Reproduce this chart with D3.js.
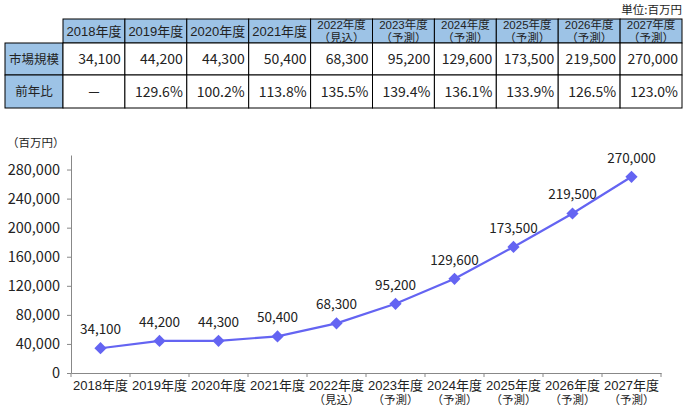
<!DOCTYPE html>
<html>
<head>
<meta charset="utf-8">
<script src="https://cdn.jsdelivr.net/npm/d3@7"></script>
<style>
  body { margin: 0; background: #fff; }
  svg text { font-family: "Noto Sans CJK JP", "Noto Sans", sans-serif; fill: #222; }
  svg text.head, svg text.xlab { font-family: "Liberation Sans", "Noto Sans CJK JP", sans-serif; }
</style>
</head>
<body>
<div id="chart"></div>
<script>
const years = ["2018年度", "2019年度", "2020年度", "2021年度", "2022年度", "2023年度", "2024年度", "2025年度", "2026年度", "2027年度"];
const notes = ["", "", "", "", "（見込）", "（予測）", "（予測）", "（予測）", "（予測）", "（予測）"];
const marketSize = [34100, 44200, 44300, 50400, 68300, 95200, 129600, 173500, 219500, 270000];
const yoy = ["－", "129.6%", "100.2%", "113.8%", "135.5%", "139.4%", "136.1%", "133.9%", "126.5%", "123.0%"];
const rowLabels = ["市場規模", "前年比"];
const yTicks = [0, 40000, 80000, 120000, 160000, 200000, 240000, 280000];

const WIDTH = 687;
const HEIGHT = 416;
const BLUE = "#9DC3E6";
const LINE = "#6464F2";
const fmt = d3.format(",");

const svg = d3.select("#chart").append("svg")
  .attr("width", WIDTH)
  .attr("height", HEIGHT);

// Table
const tableLeft = 5, labelW = 58, tableRight = 682;
const colX = d3.scaleBand().domain(years).range([tableLeft + labelW, tableRight]);
const rowTop = [19, 43, 75, 108];

svg.append("text")
  .attr("x", tableRight).attr("y", 14)
  .attr("text-anchor", "end")
  .attr("font-size", 11.5)
  .text("単位:百万円");

const table = svg.append("g");

// header cells
table.selectAll("rect.head").data(years).join("rect")
  .attr("x", d => colX(d)).attr("y", rowTop[0])
  .attr("width", colX.bandwidth()).attr("height", rowTop[1] - rowTop[0])
  .attr("fill", BLUE).attr("stroke", "#000");

table.selectAll("text.head").data(years).join("text")
  .attr("class", "head")
  .attr("x", d => colX(d) + colX.bandwidth() / 2)
  .attr("y", (d, i) => notes[i] ? rowTop[0] + 10 : rowTop[0] + 16.5)
  .attr("text-anchor", "middle")
  .attr("font-size", (d, i) => notes[i] ? 11.5 : 13)
  .text(d => d);

table.selectAll("text.note").data(notes.filter(n => n)).join("text")
  .attr("class", "head note")
  .attr("x", (d, i) => colX(years[i + 4]) + colX.bandwidth() / 2)
  .attr("y", rowTop[0] + 23)
  .attr("text-anchor", "middle")
  .attr("font-size", 11.5)
  .text(d => d);

// label column
rowLabels.forEach((lab, r) => {
  table.append("rect")
    .attr("x", tableLeft).attr("y", rowTop[r + 1])
    .attr("width", labelW).attr("height", rowTop[r + 2] - rowTop[r + 1])
    .attr("fill", BLUE).attr("stroke", "#000");
  table.append("text")
    .attr("x", tableLeft + labelW / 2)
    .attr("y", (rowTop[r + 1] + rowTop[r + 2]) / 2 + 4.5)
    .attr("text-anchor", "middle")
    .attr("font-size", 12.5)
    .text(lab);
});

[marketSize.map(fmt), yoy].forEach((vals, r) => {
  const y0 = rowTop[r + 1], y1 = rowTop[r + 2];
  table.selectAll("rect.r" + r).data(years).join("rect")
    .attr("x", d => colX(d)).attr("y", y0)
    .attr("width", colX.bandwidth()).attr("height", y1 - y0)
    .attr("fill", "#fff").attr("stroke", "#000");
  table.selectAll("text.r" + r).data(vals).join("text")
    .attr("class", "r" + r)
    .attr("x", (d, i) => d === "－" ? colX(years[i]) + colX.bandwidth() / 2 : colX(years[i]) + colX.bandwidth() - 4)
    .attr("y", (y0 + y1) / 2 + 5)
    .attr("text-anchor", d => d === "－" ? "middle" : "end")
    .attr("font-size", 14)
    .text(d => d);
});

// Chart
const m = { left: 71, right: 661, top: 155, bottom: 373 };
const x = d3.scaleBand().domain(years).range([m.left, m.right]);
const y = d3.scaleLinear().domain([0, 300000]).range([m.bottom, m.top]);

svg.append("text")
  .attr("x", 7).attr("y", 147)
  .attr("font-size", 11.5)
  .text("（百万円）");

const yAxis = svg.append("g")
  .attr("transform", `translate(${m.left},0)`)
  .call(d3.axisLeft(y).tickValues(yTicks).tickFormat(fmt).tickSize(4).tickSizeOuter(0));
yAxis.select(".domain").attr("stroke", "#888");
yAxis.selectAll(".tick line").attr("stroke", "#888");
yAxis.selectAll(".tick text")
  .attr("font-size", 14.5).attr("x", -11);

const xAxis = svg.append("g")
  .attr("transform", `translate(0,${m.bottom})`)
  .call(d3.axisBottom(x).tickSize(0).tickFormat(""));
xAxis.select(".domain").attr("stroke", "#888");

svg.append("g").selectAll("line").data(d3.range(years.length + 1)).join("line")
  .attr("x1", i => m.left + i * x.step()).attr("x2", i => m.left + i * x.step())
  .attr("y1", m.bottom).attr("y2", m.bottom + 4)
  .attr("stroke", "#888");

const xl = svg.append("g");
xl.selectAll("text.yr").data(years).join("text")
  .attr("class", "xlab yr")
  .attr("x", d => x(d) + x.bandwidth() / 2)
  .attr("y", m.bottom + 17)
  .attr("text-anchor", "middle")
  .attr("font-size", 13)
  .text(d => d);
xl.selectAll("text.nt").data(years).join("text")
  .attr("class", "xlab nt")
  .attr("x", d => x(d) + x.bandwidth() / 2)
  .attr("y", m.bottom + 31)
  .attr("text-anchor", "middle")
  .attr("font-size", 11.5)
  .text((d, i) => notes[i]);

const cx = i => x(years[i]) + x.bandwidth() / 2;

svg.append("path")
  .datum(marketSize)
  .attr("fill", "none")
  .attr("stroke", LINE)
  .attr("stroke-width", 2.2)
  .attr("d", d3.line().x((d, i) => cx(i)).y(d => y(d)));

svg.append("g").selectAll("path").data(marketSize).join("path")
  .attr("d", d3.symbol().type(d3.symbolDiamond2).size(95))
  .attr("transform", (d, i) => `translate(${cx(i)},${y(d)})`)
  .attr("fill", LINE);

svg.append("g").selectAll("text").data(marketSize).join("text")
  .attr("x", (d, i) => cx(i))
  .attr("y", d => y(d) - 14)
  .attr("text-anchor", "middle")
  .attr("font-size", 13.5)
  .text(d => fmt(d));
</script>
</body>
</html>
